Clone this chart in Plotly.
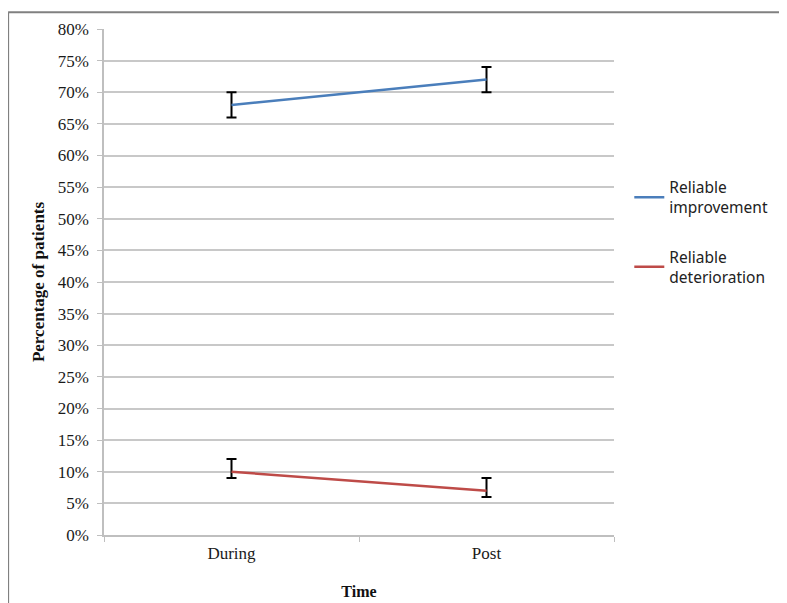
import plotly.graph_objects as go

categories = ["During", "Post"]
improvement = [68, 72]
improvement_err_plus = [2, 2]
improvement_err_minus = [2, 2]
deterioration = [10, 7]
deterioration_err_plus = [2, 2]
deterioration_err_minus = [1, 1]
y_ticks = list(range(0, 81, 5))
y_tick_labels = [f"{v}%" for v in y_ticks]

serif = "Liberation Serif, Times New Roman, serif"

fig = go.Figure()
fig.add_trace(go.Scatter(
    x=categories, y=improvement, mode="lines",
    name="Reliable<br>improvement", legendgroup="imp",
    line=dict(color="#4A7EBB", width=2.5),
    error_y=dict(type="data", symmetric=False, array=improvement_err_plus,
                 arrayminus=improvement_err_minus, color="black", thickness=2, width=5),
))
fig.add_trace(go.Scatter(
    x=categories, y=deterioration, mode="lines",
    name="Reliable<br>deterioration", legendgroup="det",
    line=dict(color="#BE4B48", width=2.5),
    error_y=dict(type="data", symmetric=False, array=deterioration_err_plus,
                 arrayminus=deterioration_err_minus, color="black", thickness=2, width=5),
))

fig.update_layout(
    width=787, height=603,
    margin=dict(l=96, r=181, t=17, b=76),
    paper_bgcolor="white", plot_bgcolor="white",
    showlegend=True,
    legend=dict(x=1.03, y=0.72, xanchor="left", yanchor="top",
                font=dict(family="Noto Sans, Liberation Sans, sans-serif", size=15.5, color="#222"),
                tracegroupgap=26, itemwidth=30, bgcolor="rgba(0,0,0,0)"),
    xaxis=dict(
        type="category", range=[-0.5, 1.5],
        showgrid=False, showline=True, linecolor="#BFBFBF", linewidth=1.5,
        ticks="outside", tickson="boundaries", ticklen=5, tickcolor="#BFBFBF",
        tickfont=dict(family=serif, size=17, color="#1a1a1a"),
        ticklabelstandoff=2,
        title=dict(text="<b>Time</b>", standoff=24,
                   font=dict(family=serif, size=16, color="#111")),
    ),
    yaxis=dict(
        range=[0, 80], tickvals=y_ticks, ticktext=y_tick_labels,
        showgrid=True, gridcolor="#C8C8C8", gridwidth=1.5,
        showline=True, linecolor="#BFBFBF", linewidth=1.5,
        ticks="outside", ticklen=5, tickcolor="#BFBFBF",
        zeroline=False,
        ticklabelstandoff=5,
        tickfont=dict(family=serif, size=17, color="#1a1a1a"),
        title=dict(text="<b>Percentage of patients</b>", standoff=9,
                   font=dict(family=serif, size=17, color="#111")),
    ),
    shapes=[
        dict(type="line", xref="paper", yref="paper", x0=-0.188, x1=1.4, y0=1.033, y1=1.033,
             line=dict(color="#808080", width=2)),
        dict(type="line", xref="paper", yref="paper", x0=-0.188, x1=-0.188, y0=1.033, y1=-0.2,
             line=dict(color="#808080", width=2)),
    ],
)

fig.write_html("out.html")
